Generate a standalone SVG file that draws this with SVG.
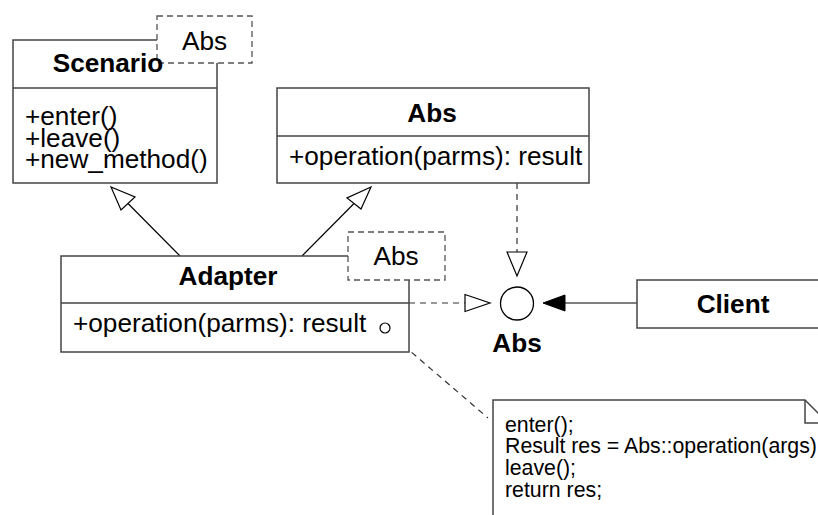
<svg xmlns="http://www.w3.org/2000/svg" width="818" height="515" viewBox="0 0 818 515">
<style>
  .box { fill: #fff; stroke: #444; stroke-width: 1.5; }
  .ln { fill: none; stroke: #444; stroke-width: 1.5; }
  .dbox { fill: #fff; stroke: #555; stroke-width: 1.3; stroke-dasharray: 6 4; }
  .dl { fill: none; stroke: #333; stroke-width: 1.2; stroke-dasharray: 6 5; }
  .c { fill: none; stroke: #000; stroke-width: 1.2; }
  .hd { fill: #fff; stroke: #000; stroke-width: 1.2; }
  .t { font-family: "Liberation Sans", Arial, sans-serif; font-size: 26.2px; fill: #000; }
  .b { font-weight: bold; text-anchor: middle; }
  .n { font-family: "Liberation Sans", Arial, sans-serif; font-size: 21.3px; fill: #000; }
</style>
<g id="connectors">
  <line class="c" x1="180" y1="256" x2="128" y2="203.5"/>
  <polygon class="hd" points="111,187 135,197 121,210"/>
  <line class="c" x1="302" y1="256" x2="354" y2="203.5"/>
  <polygon class="hd" points="371,187 347,198 361,209"/>
  <line class="dl" x1="517" y1="183" x2="517" y2="252"/>
  <polygon class="hd" points="507,252 527,252 517,276"/>
  <line class="dl" x1="409" y1="303" x2="465" y2="303"/>
  <polygon class="hd" points="465,294.5 465,311.5 490,303"/>
  <line class="c" x1="637" y1="303" x2="565" y2="303"/>
  <polygon points="543,303 565,295 565,311" fill="#000" stroke="#000" stroke-width="1"/>
  <line class="dl" x1="395" y1="338" x2="488" y2="418"/>
</g>
<g id="scenario">
  <rect class="box" x="13" y="40" width="204" height="143"/>
  <line class="ln" x1="13" y1="88" x2="217" y2="88"/>
  <rect class="dbox" x="157" y="16" width="95" height="47"/>
  <text class="t" x="204.5" y="50" text-anchor="middle">Abs</text>
  <text class="t b" x="108" y="72">Scenario</text>
  <text class="t" x="25" y="125">+enter()</text>
  <text class="t" x="25" y="147">+leave()</text>
  <text class="t" x="25" y="168">+new_method()</text>
</g>
<g id="abs-class">
  <rect class="box" x="277" y="88" width="312" height="95"/>
  <line class="ln" x1="277" y1="136" x2="589" y2="136"/>
  <text class="t b" x="432" y="122">Abs</text>
  <text class="t" x="289" y="165">+operation(parms): result</text>
</g>
<g id="adapter">
  <rect class="box" x="61" y="256" width="348" height="96"/>
  <line class="ln" x1="61" y1="303" x2="409" y2="303"/>
  <rect class="dbox" x="348" y="232" width="97" height="48"/>
  <text class="t" x="396" y="265" text-anchor="middle">Abs</text>
  <text class="t b" x="228" y="285">Adapter</text>
  <text class="t" x="73" y="332">+operation(parms): result</text>
  <circle cx="385" cy="328" r="5" fill="#fff" stroke="#000" stroke-width="1.2"/>
</g>
<g id="abs-interface">
  <circle cx="517" cy="303.5" r="16.5" fill="#fff" stroke="#000" stroke-width="1.3"/>
  <text class="t b" x="517" y="352">Abs</text>
</g>
<g id="client">
  <rect class="box" x="637" y="280" width="195" height="48"/>
  <text class="t b" x="733" y="313">Client</text>
</g>
<g id="note">
  <polygon class="box" points="493,400 805,400 828,423 828,530 493,530"/>
  <polyline class="ln" points="805,400 805,423 828,423"/>
  <text class="n" x="505" y="432">enter();</text>
  <text class="n" x="505" y="453">Result res = Abs::operation(args)</text>
  <text class="n" x="505" y="475">leave();</text>
  <text class="n" x="505" y="497">return res;</text>
</g>
</svg>
